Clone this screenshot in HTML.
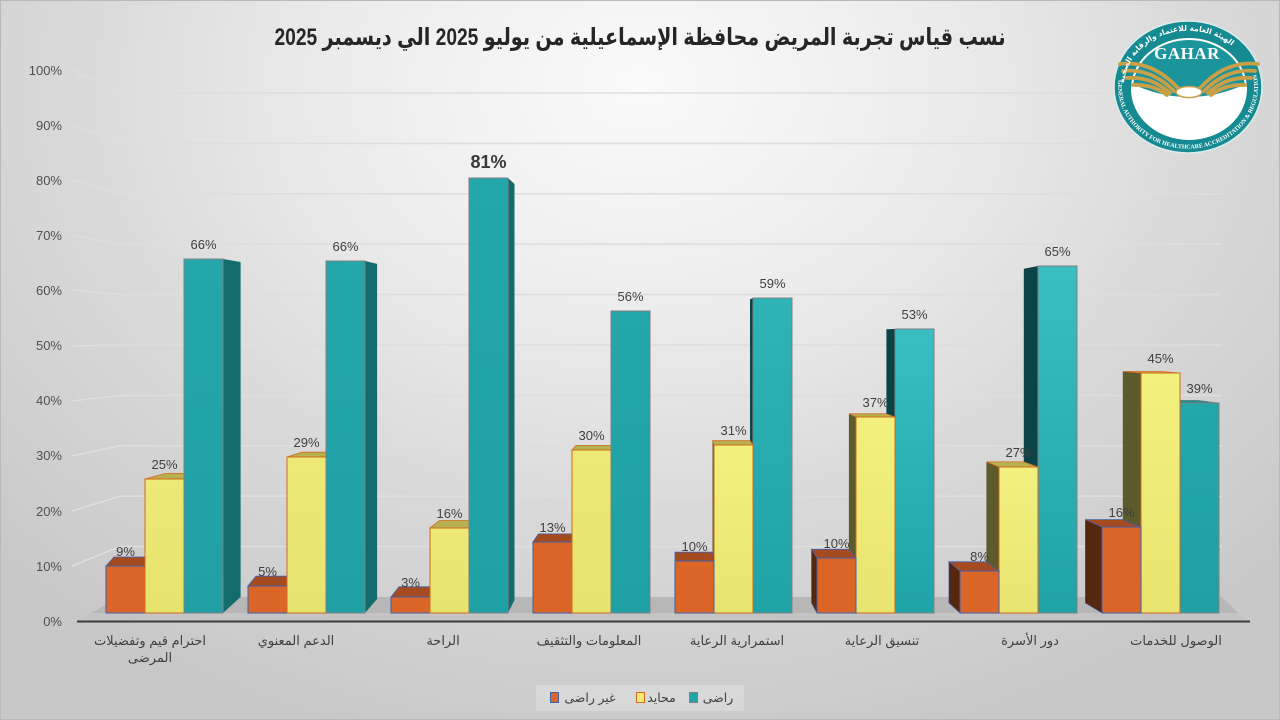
<!DOCTYPE html>
<html><head><meta charset="utf-8">
<style>
html,body{margin:0;padding:0;}
body{width:1280px;height:720px;overflow:hidden;position:relative;}
#bg{position:absolute;left:0;top:0;width:1278px;height:718px;border:1px solid #b9b9b9;
background:radial-gradient(ellipse 70% 95% at 50% 12%, #fafafa 0%, #ededed 32%, #dadada 62%, #c8c8c8 100%);}
#title{position:absolute;left:0;width:1280px;top:22px;text-align:center;font-weight:bold;font-size:24px;line-height:32px;
font-family:"Liberation Sans","DejaVu Sans",sans-serif;color:#262626;transform:scaleX(0.8);transform-origin:640px 50%;}
svg{position:absolute;left:0;top:0;}
</style></head>
<body>
<div id="bg"></div>
<svg width="1280" height="720" viewBox="0 0 1280 720" xmlns="http://www.w3.org/2000/svg">
<defs>
<linearGradient id="tl" x1="0" y1="0" x2="0" y2="1"><stop offset="0" stop-color="#23a7ab"/><stop offset="1" stop-color="#1fa0a4"/></linearGradient>
<linearGradient id="tm" x1="0" y1="0" x2="0" y2="1"><stop offset="0" stop-color="#2eb3b7"/><stop offset="1" stop-color="#20a3a6"/></linearGradient>
<linearGradient id="tr" x1="0" y1="0" x2="0" y2="1"><stop offset="0" stop-color="#3abec2"/><stop offset="1" stop-color="#20a3a6"/></linearGradient>
<linearGradient id="yl" x1="0" y1="0" x2="0" y2="1"><stop offset="0" stop-color="#ece977"/><stop offset="1" stop-color="#e6e36e"/></linearGradient>
<linearGradient id="yr" x1="0" y1="0" x2="0" y2="1"><stop offset="0" stop-color="#f3f17e"/><stop offset="1" stop-color="#e7e46f"/></linearGradient>
<path id="arcTop" d="M1124.7,95 A64,56 0 1,1 1251.3,95"/>
<path id="arcBot" d="M1119,76.2 A70,62 0 1,0 1257,76.2"/>
</defs>

<!-- side wall & back wall gridlines -->
<g stroke="#dedede" stroke-width="1.6" fill="none">
<polyline points="72,566 120,546.6 1222,546.6"/>
<polyline points="72,511 120,496.2 1222,496.2"/>
<polyline points="72,456 120,445.8 1222,445.8"/>
<polyline points="72,401 120,395.4 1222,395.4"/>
<polyline points="72,346 120,345 1222,345"/>
<polyline points="72,290 120,294.6 1222,294.6"/>
<polyline points="72,235 120,244.2 1222,244.2"/>
<polyline points="72,180 120,193.8 1222,193.8"/>
<polyline points="72,125 120,143.4 1222,143.4"/>
<polyline points="72,70 120,93 1222,93"/>
</g>

<!-- floor -->
<polygon points="91,613 120,597 1222,597 1238,613" fill="#b7b7b7"/>
<polygon points="77,621 91,613 1238,613 1250,621" fill="#c4c4c4"/>
<line x1="77" y1="621.5" x2="1250" y2="621.5" stroke="#3d3d3d" stroke-width="2"/>

<!-- G1 -->
<polygon points="106,566 145,566 153,557 114,557" fill="#a54b1f" stroke="#3f5fa8" stroke-width="0.8"/>
<rect x="106" y="566" width="39" height="47" fill="#dc6628" stroke="#3f5fa8" stroke-width="1"/>
<polygon points="145,479 184,479 203,473.4 165.7,473.4" fill="#b5b24f" stroke="#d4681c" stroke-width="0.8"/>
<rect x="145" y="479" width="39" height="134" fill="url(#yl)" stroke="#d4681c" stroke-width="1"/>
<polygon points="223,259 240.6,262 240.6,597 223,613" fill="#146b6c"/>
<rect x="184" y="259" width="39" height="354" fill="url(#tl)" stroke="#808080" stroke-width="1"/>

<!-- G2 -->
<polygon points="248,586 287,586 295,576.2 256,576.2" fill="#a54b1f" stroke="#3f5fa8" stroke-width="0.8"/>
<rect x="248" y="586" width="39" height="27" fill="#dc6628" stroke="#3f5fa8" stroke-width="1"/>
<polygon points="287,457 326,457 339.6,452.2 302.1,452.2" fill="#b5b24f" stroke="#d4681c" stroke-width="0.8"/>
<rect x="287" y="457" width="39" height="156" fill="url(#yl)" stroke="#d4681c" stroke-width="1"/>
<polygon points="365,261 377.1,263.9 377.1,599 365,613" fill="#146b6c"/>
<rect x="326" y="261" width="39" height="352" fill="url(#tl)" stroke="#808080" stroke-width="1"/>

<!-- G3 -->
<polygon points="391,597 430,597 438,586.8 399,586.8" fill="#a54b1f" stroke="#3f5fa8" stroke-width="0.8"/>
<rect x="391" y="597" width="39" height="16" fill="#dc6628" stroke="#3f5fa8" stroke-width="1"/>
<polygon points="430,528 469,528 477,520.5 439.6,520.5" fill="#b5b24f" stroke="#d4681c" stroke-width="0.8"/>
<rect x="430" y="528" width="39" height="85" fill="url(#yl)" stroke="#d4681c" stroke-width="1"/>
<polygon points="508,178 514.5,184 514.5,600 508,613" fill="#146b6c"/>
<rect x="469" y="178" width="39" height="435" fill="url(#tl)" stroke="#808080" stroke-width="1"/>

<!-- G4 -->
<polygon points="533,542 572,542 577.5,533.9 538.5,533.9" fill="#a54b1f" stroke="#3f5fa8" stroke-width="0.8"/>
<rect x="533" y="542" width="39" height="71" fill="#dc6628" stroke="#3f5fa8" stroke-width="1"/>
<polygon points="572,450 611,450 613.5,445.5 576,445.5" fill="#b5b24f" stroke="#d4681c" stroke-width="0.8"/>
<rect x="572" y="450" width="39" height="163" fill="url(#yl)" stroke="#d4681c" stroke-width="1"/>
<rect x="611" y="311" width="39" height="302" fill="url(#tl)" stroke="#808080" stroke-width="1"/>

<!-- G5 -->
<polygon points="753,298 750,299.4 750,603 753,613" fill="#0c4346"/>
<rect x="753" y="298" width="39" height="315" fill="url(#tm)" stroke="#808080" stroke-width="1"/>
<polygon points="714,445 712.5,440.7 712.5,603 714,613" fill="#5b5b2b"/>
<polygon points="714,445 753,445 750,440.7 712.5,440.7" fill="#b5b24f" stroke="#d4681c" stroke-width="0.8"/>
<rect x="714" y="445" width="39" height="168" fill="url(#yr)" stroke="#d4681c" stroke-width="1"/>
<polygon points="675,561 714,561 712.5,552.2 675,552.2" fill="#a54b1f" stroke="#3f5fa8" stroke-width="0.8"/>
<rect x="675" y="561" width="39" height="52" fill="#dc6628" stroke="#3f5fa8" stroke-width="1"/>

<!-- G6 -->
<polygon points="895,329 886.4,329.2 886.4,603 895,613" fill="#0c4346"/>
<rect x="895" y="329" width="39" height="284" fill="url(#tr)" stroke="#808080" stroke-width="1"/>
<polygon points="856,417 848.9,413.8 848.9,603 856,613" fill="#5b5b2b"/>
<polygon points="856,417 895,417 886.4,413.8 848.9,413.8" fill="#b5b24f" stroke="#d4681c" stroke-width="0.8"/>
<rect x="856" y="417" width="39" height="196" fill="url(#yr)" stroke="#d4681c" stroke-width="1"/>
<polygon points="817,558 811.5,549.3 811.5,603 817,613" fill="#56270f" stroke="#3f5fa8" stroke-width="0.6"/>
<polygon points="817,558 856,558 848.9,549.3 811.5,549.3" fill="#a54b1f" stroke="#3f5fa8" stroke-width="0.8"/>
<rect x="817" y="558" width="39" height="55" fill="#dc6628" stroke="#3f5fa8" stroke-width="1"/>

<!-- G7 -->
<polygon points="1038,266 1023.8,268.7 1023.8,603 1038,613" fill="#0c4346"/>
<rect x="1038" y="266" width="39" height="347" fill="url(#tr)" stroke="#808080" stroke-width="1"/>
<polygon points="999,467 986.4,461.9 986.4,603 999,613" fill="#5b5b2b"/>
<polygon points="999,467 1038,467 1023.8,461.9 986.4,461.9" fill="#b5b24f" stroke="#d4681c" stroke-width="0.8"/>
<rect x="999" y="467" width="39" height="146" fill="url(#yr)" stroke="#d4681c" stroke-width="1"/>
<polygon points="960,571 948.9,561.8 948.9,603 960,613" fill="#56270f" stroke="#3f5fa8" stroke-width="0.6"/>
<polygon points="960,571 999,571 986.4,561.8 948.9,561.8" fill="#a54b1f" stroke="#3f5fa8" stroke-width="0.8"/>
<rect x="960" y="571" width="39" height="42" fill="#dc6628" stroke="#3f5fa8" stroke-width="1"/>

<!-- G8 -->
<polygon points="1180,403 1219,403 1197.8,400.3 1160.3,400.3" fill="#1b8c8f" stroke="#808080" stroke-width="0.6"/>
<rect x="1180" y="403" width="39" height="210" fill="url(#tl)" stroke="#808080" stroke-width="1"/>
<polygon points="1141,373 1122.8,371.5 1122.8,603 1141,613" fill="#5b5b2b"/>
<polygon points="1141,373 1180,373 1160.3,371.5 1122.8,371.5" fill="#b5b24f" stroke="#d4681c" stroke-width="0.8"/>
<rect x="1141" y="373" width="39" height="240" fill="url(#yr)" stroke="#d4681c" stroke-width="1"/>
<polygon points="1102,527 1085.3,519.6 1085.3,603 1102,613" fill="#56270f" stroke="#3f5fa8" stroke-width="0.6"/>
<polygon points="1102,527 1141,527 1122.8,519.6 1085.3,519.6" fill="#a54b1f" stroke="#3f5fa8" stroke-width="0.8"/>
<rect x="1102" y="527" width="39" height="86" fill="#dc6628" stroke="#3f5fa8" stroke-width="1"/>

<!-- y axis labels -->
<g font-family="Liberation Sans, DejaVu Sans, sans-serif" font-size="13" fill="#505050" text-anchor="end">
<text x="62" y="75">100%</text>
<text x="62" y="130">90%</text>
<text x="62" y="185">80%</text>
<text x="62" y="240">70%</text>
<text x="62" y="295">60%</text>
<text x="62" y="350">50%</text>
<text x="62" y="405">40%</text>
<text x="62" y="460">30%</text>
<text x="62" y="516">20%</text>
<text x="62" y="571">10%</text>
<text x="62" y="626">0%</text>
</g>

<!-- value labels -->
<g font-family="Liberation Sans, DejaVu Sans, sans-serif" font-size="13" fill="#404040" text-anchor="middle">
<text x="125.5" y="556">9%</text>
<text x="164.5" y="469">25%</text>
<text x="203.5" y="249">66%</text>
<text x="267.5" y="576">5%</text>
<text x="306.5" y="447">29%</text>
<text x="345.5" y="251">66%</text>
<text x="410.5" y="587">3%</text>
<text x="449.5" y="518">16%</text>
<text x="552.5" y="532">13%</text>
<text x="591.5" y="440">30%</text>
<text x="630.5" y="301">56%</text>
<text x="694.5" y="551">10%</text>
<text x="733.5" y="435">31%</text>
<text x="772.5" y="288">59%</text>
<text x="836.5" y="548">10%</text>
<text x="875.5" y="407">37%</text>
<text x="914.5" y="319">53%</text>
<text x="979.5" y="561">8%</text>
<text x="1018.5" y="457">27%</text>
<text x="1057.5" y="256">65%</text>
<text x="1121.5" y="517">16%</text>
<text x="1160.5" y="363">45%</text>
<text x="1199.5" y="393">39%</text>
</g>
<text x="488.5" y="168" font-family="Liberation Sans, DejaVu Sans, sans-serif" font-size="18" font-weight="bold" fill="#3a3a3a" text-anchor="middle">81%</text>

<!-- category labels -->
<g font-family="Liberation Sans, DejaVu Sans, sans-serif" font-size="13" fill="#404040" text-anchor="middle">
<text x="150" y="645">احترام قيم وتفضيلات</text>
<text x="150" y="662">المرضى</text>
<text x="296" y="645">الدعم المعنوي</text>
<text x="443" y="645">الراحة</text>
<text x="589" y="645">المعلومات والتثقيف</text>
<text x="737" y="645">استمرارية الرعاية</text>
<text x="882" y="645">تنسيق الرعاية</text>
<text x="1030" y="645">دور الأسرة</text>
<text x="1176" y="645">الوصول للخدمات</text>
</g>

<!-- legend -->
<rect x="536" y="685" width="208" height="26" fill="#ffffff" fill-opacity="0.22"/>
<rect x="550.5" y="692.5" width="8" height="10" fill="#dc6628" stroke="#3f5fa8" stroke-width="1"/>
<rect x="636.5" y="692.5" width="8" height="10" fill="#eeeb75" stroke="#d4681c" stroke-width="1"/>
<rect x="689.5" y="692.5" width="8" height="10" fill="#21a4a8" stroke="#808080" stroke-width="1"/>
<g font-family="Liberation Sans, DejaVu Sans, sans-serif" font-size="12.5" fill="#404040" text-anchor="middle">
<text x="590" y="702">غير راضى</text>
<text x="661.5" y="702">محايد</text>
<text x="718" y="702">راضى</text>
</g>

<!-- logo -->
<g>
<ellipse cx="1188" cy="87" rx="74" ry="66" fill="#168a91" stroke="#dcecec" stroke-width="1.5"/>
<ellipse cx="1189" cy="89" rx="57" ry="50" fill="#1b959b" stroke="#ffffff" stroke-width="2"/>
<path d="M1132.3,84 Q1189,110 1245.7,84 A57,50 0 1,1 1132.3,84 Z" fill="#ffffff"/>
<g stroke="#c9a048" stroke-width="3.8" fill="none" stroke-linecap="round">
<path d="M1120,64 Q1152,60 1178,88"/>
<path d="M1123,71 Q1151,68 1174,91"/>
<path d="M1127,78 Q1151,76 1170,93"/>
<path d="M1133,85 Q1153,84 1167,95"/>
<path d="M1258,64 Q1226,60 1200,88"/>
<path d="M1255,71 Q1227,68 1204,91"/>
<path d="M1251,78 Q1227,76 1208,93"/>
<path d="M1245,85 Q1225,84 1211,95"/>
</g>
<ellipse cx="1189" cy="92" rx="13" ry="5.5" fill="#ffffff" stroke="#c9a048" stroke-width="1.5"/>
<text x="1187" y="59" font-family="Liberation Serif, serif" font-size="17" font-weight="bold" fill="#ffffff" text-anchor="middle" letter-spacing="0.5">GAHAR</text>
<text font-family="DejaVu Sans, sans-serif" font-size="7.5" font-weight="bold" fill="#ffffff"><textPath href="#arcTop" startOffset="12">الهيئة العامة للاعتماد والرقابة الصحية</textPath></text>
<text font-family="Liberation Serif, serif" font-size="6" font-weight="bold" fill="#ffffff"><textPath href="#arcBot" startOffset="4">GENERAL AUTHORITY FOR HEALTHCARE ACCREDITATION &amp; REGULATION</textPath></text>
</g>
</svg>
<div id="title" dir="rtl">نسب قياس تجربة المريض محافظة الإسماعيلية من يوليو 2025 الي ديسمبر 2025</div>
</body></html>
